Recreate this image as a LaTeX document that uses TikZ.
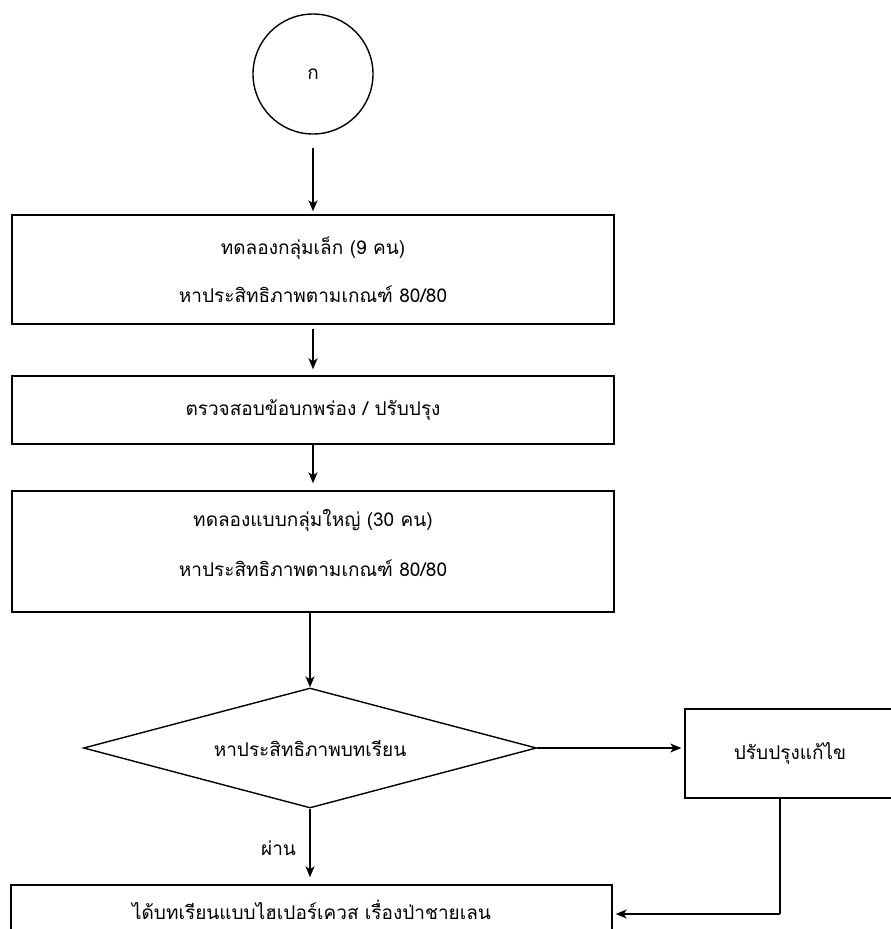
\documentclass[tikz,border=0pt]{standalone}
\usepackage{fontspec}
\setmainfont[Script=Thai]{Loma}
\usetikzlibrary{arrows.meta,shapes.geometric}
\begin{document}
\begin{tikzpicture}[x=1pt,y=-1pt,
  line width=1.4pt,
  arr/.style={-{Stealth[length=11pt,width=9pt,inset=3pt]}},
  box/.style={draw,rectangle,inner sep=0pt,align=center,font=\fontsize{19}{22}\selectfont},
  lbl/.style={font=\fontsize{19}{22}\selectfont}]
\useasboundingbox (0,0) rectangle (891,929);
\clip (0,0) rectangle (891,929);
\node[draw,circle,minimum size=120pt,inner sep=0pt,lbl] (c) at (313,74) {ก};
\node[box,minimum width=602pt,minimum height=109pt] (b1) at (313,269.5)
  {ทดลองกลุ่มเล็ก (9 คน)\\[26pt]หาประสิทธิภาพตามเกณฑ์ 80/80};
\node[box,minimum width=602pt,minimum height=68pt] (b2) at (313,410)
  {ตรวจสอบข้อบกพร่อง / ปรับปรุง};
\node[box,minimum width=602pt,minimum height=121pt] (b3) at (313,551.5)
  {ทดลองแบบกลุ่มใหญ่ (30 คน)\\[28pt]หาประสิทธิภาพตามเกณฑ์ 80/80\\[-4pt]};
\node[draw,diamond,shape aspect=3.775,minimum width=453pt,minimum height=120pt,inner sep=0pt,lbl] (d) at (310,748)
  {หาประสิทธิภาพบทเรียน};
\node[box,minimum width=210pt,minimum height=89pt] (r) at (790,753.5)
  {ปรับปรุงแก้ไข};
\node[box,minimum width=601pt,minimum height=50pt] (f) at (311.5,910)
  {ได้บทเรียนแบบไฮเปอร์เควส เรื่องป่าชายเลน};
\node[lbl,anchor=east] (pass) at (300,848) {ผ่าน};
\coordinate (k) at (780,914);
\draw[arr] ([yshift=-13pt]c.south) -- ([yshift=3pt]b1.north);
\draw[arr] ([yshift=-4pt]b1.south) -- ([yshift=6pt]b2.north);
\draw[arr] (b2.south) -- ([yshift=7pt]b3.north);
\draw[arr] ([xshift=-3pt]b3.south) -- (d.north);
\draw[arr] (d.south) -- ([yshift=7pt]d.south |- f.north);
\draw[arr] (d.east) -- ([xshift=-3pt]d.east -| r.west);
\draw (r.south -| k) -- (k);
\draw[arr] (k) -- ([xshift=3pt]f.east |- k);
\end{tikzpicture}
\end{document}
